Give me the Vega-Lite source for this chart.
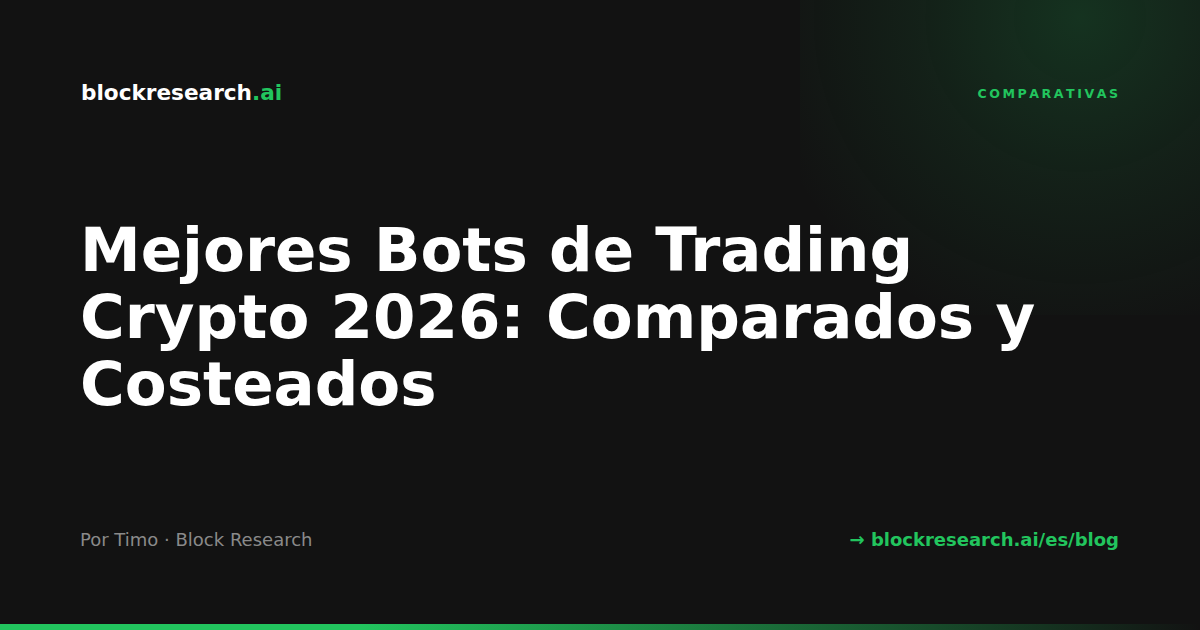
{
  "$schema": "https://vega.github.io/schema/vega-lite/v6.json",
  "width": 1200,
  "height": 630,
  "autosize": {"type": "fit", "contains": "padding"},
  "padding": 0,
  "background": "#121212",
  "config": {"view": {"stroke": null}},
  "datasets": {
    "glow": [{"x": 800, "x2": 1200, "y": 0, "y2": 315}],
    "bar": [{"x": 0, "x2": 1200, "y": 624, "y2": 630}],
    "title": [
      {"line": "Mejores Bots de Trading", "x": 80, "y": 271},
      {"line": "Crypto 2026: Comparados y", "x": 80, "y": 338},
      {"line": "Costeados", "x": 80, "y": 405}
    ],
    "brandMain": [{"t": "blockresearch", "x": 252, "y": 100}],
    "brandTld": [{"t": ".ai", "x": 252, "y": 100}],
    "category": [{"t": "C\u2009O\u2009M\u2009P\u2009A\u2009R\u2009A\u2009T\u2009I\u2009V\u2009A\u2009S", "x": 1118, "y": 98}],
    "author": [{"t": "Por Timo · Block Research", "x": 80, "y": 546}],
    "link": [{"t": "→ blockresearch.ai/es/blog", "x": 1119, "y": 546}]
  },
  "resolve": {"scale": {"x": "shared", "y": "shared"}},
  "layer": [
    {
      "data": {"name": "glow"},
      "mark": {
        "type": "rect",
        "fill": {
          "gradient": "radial",
          "x1": 0.7, "y1": 0.15, "r1": 0,
          "x2": 0.7, "y2": 0.15, "r2": 0.82,
          "stops": [
            {"offset": 0, "color": "rgba(34,197,94,0.18)"},
            {"offset": 0.5, "color": "rgba(34,197,94,0.08)"},
            {"offset": 1, "color": "rgba(34,197,94,0)"}
          ]
        }
      },
      "encoding": {
        "x": {"field": "x", "type": "quantitative", "scale": {"domain": [0, 1200], "nice": false, "zero": false}, "axis": null},
        "x2": {"field": "x2"},
        "y": {"field": "y", "type": "quantitative", "scale": {"domain": [0, 630], "nice": false, "zero": false, "reverse": true}, "axis": null},
        "y2": {"field": "y2"}
      }
    },
    {
      "data": {"name": "bar"},
      "mark": {
        "type": "rect",
        "fill": {
          "gradient": "linear",
          "x1": 0, "y1": 0, "x2": 1, "y2": 0,
          "stops": [
            {"offset": 0, "color": "#22c55e"},
            {"offset": 0.3, "color": "#22c55e"},
            {"offset": 1, "color": "rgba(34,197,94,0)"}
          ]
        }
      },
      "encoding": {
        "x": {"field": "x", "type": "quantitative", "axis": null},
        "x2": {"field": "x2"},
        "y": {"field": "y", "type": "quantitative", "axis": null},
        "y2": {"field": "y2"}
      }
    },
    {
      "data": {"name": "title"},
      "mark": {"type": "text", "font": "DejaVu Sans", "fontWeight": "bold", "fontSize": 61, "color": "#ffffff", "align": "left", "baseline": "alphabetic"},
      "encoding": {
        "x": {"field": "x", "type": "quantitative", "axis": null},
        "y": {"field": "y", "type": "quantitative", "axis": null},
        "text": {"field": "line"}
      }
    },
    {
      "data": {"name": "brandMain"},
      "mark": {"type": "text", "font": "DejaVu Sans", "fontWeight": "bold", "fontSize": 21.6, "color": "#ffffff", "align": "right", "baseline": "alphabetic"},
      "encoding": {
        "x": {"field": "x", "type": "quantitative", "axis": null},
        "y": {"field": "y", "type": "quantitative", "axis": null},
        "text": {"field": "t"}
      }
    },
    {
      "data": {"name": "brandTld"},
      "mark": {"type": "text", "font": "DejaVu Sans", "fontWeight": "bold", "fontSize": 21.6, "color": "#22c55e", "align": "left", "baseline": "alphabetic"},
      "encoding": {
        "x": {"field": "x", "type": "quantitative", "axis": null},
        "y": {"field": "y", "type": "quantitative", "axis": null},
        "text": {"field": "t"}
      }
    },
    {
      "data": {"name": "category"},
      "mark": {"type": "text", "font": "DejaVu Sans", "fontWeight": "bold", "fontSize": 12.6, "color": "#22c55e", "align": "right", "baseline": "alphabetic"},
      "encoding": {
        "x": {"field": "x", "type": "quantitative", "axis": null},
        "y": {"field": "y", "type": "quantitative", "axis": null},
        "text": {"field": "t"}
      }
    },
    {
      "data": {"name": "author"},
      "mark": {"type": "text", "font": "DejaVu Sans", "fontSize": 18, "color": "#8a8a8a", "align": "left", "baseline": "alphabetic"},
      "encoding": {
        "x": {"field": "x", "type": "quantitative", "axis": null},
        "y": {"field": "y", "type": "quantitative", "axis": null},
        "text": {"field": "t"}
      }
    },
    {
      "data": {"name": "link"},
      "mark": {"type": "text", "font": "DejaVu Sans", "fontWeight": "bold", "fontSize": 18, "color": "#22c55e", "align": "right", "baseline": "alphabetic"},
      "encoding": {
        "x": {"field": "x", "type": "quantitative", "axis": null},
        "y": {"field": "y", "type": "quantitative", "axis": null},
        "text": {"field": "t"}
      }
    }
  ]
}
